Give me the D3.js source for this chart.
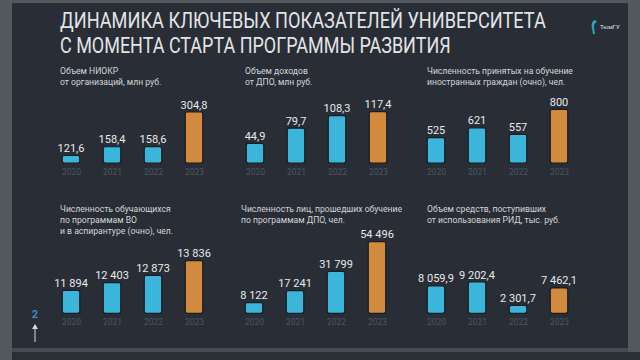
<!DOCTYPE html>
<html><head><meta charset="utf-8">
<script src="https://cdn.jsdelivr.net/npm/d3@7"></script>
<style>html,body{margin:0;padding:0;background:#53585c;overflow:hidden}</style>
</head><body>
<svg id="c" width="640" height="360"></svg>
<script>
// ---------- data ----------
const years = ["2020", "2021", "2022", "2023"];
const niokr = [121.6, 158.4, 158.6, 304.8];
const dpoIncome = [44.9, 79.7, 108.3, 117.4];
const foreignAdmitted = [525, 621, 557, 800];
const students = [11894, 12403, 12873, 13836];
const dpoTrained = [8122, 17241, 31799, 54496];
const ridIncome = [8059.9, 9202.4, 2301.7, 7462.1];
const titleLines = ["ДИНАМИКА КЛЮЧЕВЫХ ПОКАЗАТЕЛЕЙ УНИВЕРСИТЕТА", "С МОМЕНТА СТАРТА ПРОГРАММЫ РАЗВИТИЯ"];
const panelTitles = [
  ["Объем НИОКР", "от организаций, млн руб."],
  ["Объем доходов", "от ДПО, млн руб."],
  ["Численность принятых на обучение", "иностранных граждан (очно), чел."],
  ["Численность обучающихся", "по программам ВО", "и в аспирантуре (очно), чел."],
  ["Численность лиц, прошедших обучение", "по программам ДПО, чел."],
  ["Объем средств, поступивших", "от использования РИД, тыс. руб."]
];
const series = [niokr, dpoIncome, foreignAdmitted, students, dpoTrained, ridIncome];
const formats = [",.1f", ",.1f", ",.0f", ",.0f", ",.0f", ",.1f"];

// ---------- layout ----------
const layout = [
  {x0: 71,  x1: 194, bottom: 163,   h: 51,   base: 90,    tx: 60,  ty: 74},
  {x0: 255, x1: 378, bottom: 163,   h: 51.3, base: 0,     tx: 245, ty: 74},
  {x0: 436, x1: 559, bottom: 163,   h: 53.7, base: 280,   tx: 427, ty: 74},
  {x0: 71,  x1: 194, bottom: 313.3, h: 52.7, base: 10400, tx: 60,  ty: 212},
  {x0: 254, x1: 377, bottom: 313.3, h: 71.7, base: 0,     tx: 241, ty: 212},
  {x0: 436, x1: 559, bottom: 313.3, h: 31.3, base: 0,     tx: 427, ty: 212}
];
const barW = 17.5;
const blue = "#3bb6da", orange = "#d28b3e";

const loc = d3.formatLocale({decimal: ",", thousands: "\u00a0", grouping: [3], currency: ["", ""]});

const svg = d3.select("#c");
// backgrounds
svg.append("rect").attr("x", 0).attr("y", 0).attr("width", 640).attr("height", 360).attr("fill", "#53585c");
svg.append("rect").attr("x", 12).attr("y", 3).attr("width", 616).attr("height", 345).attr("fill", "#292e36");
svg.append("rect").attr("x", 12).attr("y", 348).attr("width", 616).attr("height", 4).attr("fill", "#464b51");
svg.append("rect").attr("x", 12).attr("y", 352).attr("width", 628).attr("height", 8).attr("fill", "#2a2e35");

// title (horizontally condensed via a scale transform)
const titleWidths = [486, 391];
titleLines.forEach((t, i) => {
  const g = svg.append("g");
  const txt = g.append("text").attr("x", 0).attr("y", i === 0 ? 28 : 53.5)
    .attr("font-family", "Roboto").attr("font-size", 22).attr("fill", "#e3e4e6")
    .text(t);
  const len = txt.node().getComputedTextLength();
  g.attr("transform", `translate(60,0) scale(${titleWidths[i] / len},1)`);
});

// logo
const logo = svg.append("g").attr("transform", "translate(588,18)");
logo.append("path").attr("d", "M7,2 C4,3 3,6 4,10 L5,16 L7,16 L6,9 C6,6 7,5 9,4 Z").attr("fill", "#2aa6b8");
logo.append("text").attr("x", 12).attr("y", 11).attr("font-family", "Roboto").attr("font-size", 6)
  .attr("fill", "#dfe2e6").text("ТюмГУ");

// panels
series.forEach((vals, p) => {
  const L = layout[p];
  const g = svg.append("g");
  const x = d3.scalePoint().domain(years).range([L.x0, L.x1]);
  const y = d3.scaleLinear().domain([L.base, d3.max(vals)]).range([L.bottom, L.bottom - L.h]);
  const fmt = loc.format(formats[p]);

  panelTitles[p].forEach((t, i) => {
    g.append("text").attr("x", L.tx).attr("y", L.ty + i * 11)
      .attr("font-family", "Roboto").attr("font-size", 8.6).attr("fill", "#d2d5d9").text(t);
  });

  g.selectAll("rect.bar").data(vals).join("rect").attr("class", "bar")
    .attr("x", (d, i) => x(years[i]) - barW / 2)
    .attr("y", d => y(d))
    .attr("width", barW)
    .attr("height", d => L.bottom - y(d))
    .attr("rx", 2)
    .attr("fill", (d, i) => i === 3 ? orange : blue)
    .attr("stroke", "#1a1d23").attr("stroke-width", 1.2);

  g.selectAll("text.val").data(vals).join("text").attr("class", "val")
    .attr("x", (d, i) => x(years[i]))
    .attr("y", d => y(d) - 3.5)
    .attr("text-anchor", "middle")
    .attr("font-family", "Roboto").attr("font-size", 11).attr("fill", "#e8e9eb")
    .text(d => fmt(d));

  const axis = d3.axisBottom(x).tickSize(0).tickPadding(0);
  const ag = g.append("g").attr("transform", `translate(0,${L.bottom + 12})`).call(axis);
  ag.select(".domain").remove();
  ag.selectAll("text").attr("font-family", "Roboto").attr("font-size", 8.5)
    .attr("fill", "#4b5561").attr("dy", 0);
});

// page number and arrow
svg.append("text").attr("x", 35).attr("y", 318).attr("text-anchor", "middle")
  .attr("font-family", "Roboto").attr("font-weight", "bold").attr("font-size", 11)
  .attr("fill", "#3a8cc0").text("2");
svg.append("line").attr("x1", 35).attr("x2", 35).attr("y1", 326).attr("y2", 342)
  .attr("stroke", "#d8d8d8").attr("stroke-width", 1);
svg.append("path").attr("d", "M32,329 L35,324 L38,329 Z").attr("fill", "#d8d8d8");
</script>
</body></html>
